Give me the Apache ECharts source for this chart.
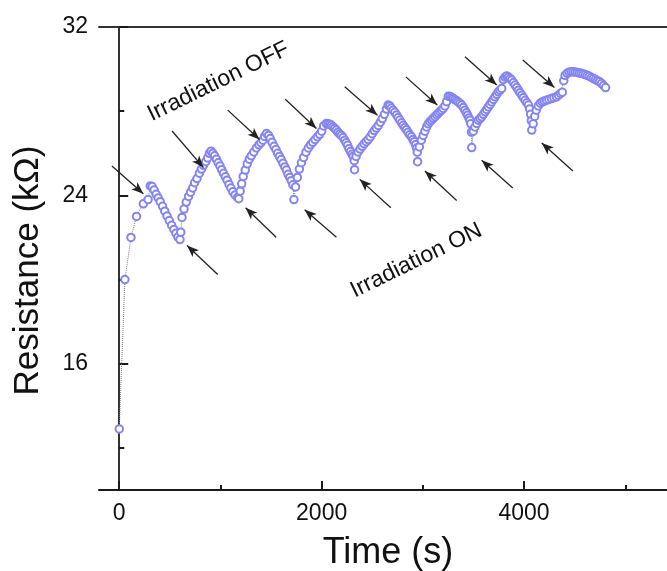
<!DOCTYPE html>
<html>
<head>
<meta charset="utf-8">
<script src="https://cdn.jsdelivr.net/npm/echarts@6/dist/echarts.min.js"></script>
<style>html,body{margin:0;padding:0;background:#fff;}#c{width:667px;height:571px;}</style>
</head>
<body>
<div id="c"></div>
<script>
// Time (s)
const timeS = [
0,56,116,171,238,285,307,325,345,365,385,405,428,450,472,495,518,540,560,580,600,
608,620,640,662,685,705,725,745,768,792,812,832,855,874,891,908,
925,942,960,978,995,1012,1030,1048,1066,1085,1103,1122,1145,1170,1181,
1195,1210,1225,1245,1265,1285,1305,1330,1355,1380,1400,1420,1436,1455,
1475,1492,1510,1530,1548,1565,1583,1600,1618,1636,1652,1668,1685,1700,1716,1726,
1742,1760,1780,1800,1822,1845,1868,1890,1912,1935,1958,1980,2000,2020,2046,
2062,2080,2096,2112,2129,2145,2161,2178,2195,2212,2228,2242,2256,2270,2285,2300,2312,2322,2325,
2340,2360,2380,2400,2420,2440,2460,2480,2500,2520,2540,2560,2580,2600,2620,2640,2657,
2672,2688,2705,2722,2740,2756,2772,2790,2806,2822,2838,2854,2870,2888,2902,2915,2928,2938,2945,2948,
2965,2985,3003,3020,3037,3053,3070,3086,3103,3120,3136,3152,3168,3185,3201,3218,3235,3251,
3268,3285,3300,3316,3333,3349,3366,3383,3400,3415,3430,3442,3455,3465,3474,3480,3483,
3498,3515,3532,3548,3565,3581,3598,3614,3630,3647,3664,3680,3697,3713,3730,3746,3763,3779,3795,3812,3828,
3845,3862,3878,3895,3911,3928,3944,3960,3977,3993,4010,4027,4043,4055,4065,4072,4076,
4090,4105,4120,4140,4160,4180,4200,4222,4245,4270,4295,4320,4340,4360,4378,4392,
4405,4425,4445,4465,4485,4505,4525,4545,4565,4585,4605,4625,4645,4665,4685,4705,4725,4745,4765,4785,4805
];
// Resistance (kOhm)
const resistance = [
12.9,20.0,22.0,23.0,23.6,23.8,24.45,24.42,24.25,24.05,23.88,23.7,23.48,23.25,23.02,22.8,22.58,22.38,22.2,22.02,21.9,
22.25,22.95,23.35,23.68,23.95,24.15,24.35,24.6,24.8,25.05,25.25,25.43,25.6,25.78,26.0,26.1,
26.0,25.88,25.72,25.55,25.4,25.22,25.05,24.88,24.72,24.52,24.35,24.17,24.02,23.9,23.84,
24.2,24.55,24.9,25.2,25.5,25.72,25.88,26.06,26.25,26.4,26.5,26.62,26.8,26.94,
26.85,26.7,26.52,26.33,26.18,26.0,25.85,25.7,25.52,25.35,25.2,25.0,24.85,24.7,24.5,23.8,
24.4,24.85,25.25,25.55,25.8,26.05,26.25,26.4,26.52,26.65,26.78,26.9,27.05,27.3,27.41,
27.4,27.38,27.33,27.25,27.18,27.1,27.0,26.92,26.85,26.75,26.62,26.5,26.38,26.22,26.08,25.95,25.85,25.65,25.22,
25.85,26.06,26.2,26.33,26.45,26.55,26.65,26.78,26.93,27.08,27.2,27.32,27.48,27.65,27.85,28.1,28.29,
28.25,28.15,28.05,27.95,27.82,27.7,27.58,27.45,27.33,27.22,27.12,27.0,26.88,26.78,26.65,26.55,26.4,26.25,26.05,25.6,
26.3,26.62,26.85,27.05,27.25,27.4,27.5,27.58,27.66,27.74,27.82,27.9,27.98,28.05,28.13,28.25,28.45,28.71,
28.7,28.65,28.6,28.55,28.5,28.44,28.37,28.29,28.18,28.05,27.92,27.81,27.68,27.57,27.4,27.0,26.27,
27.05,27.25,27.42,27.57,27.65,27.73,27.85,27.97,28.08,28.2,28.32,28.44,28.56,28.68,28.8,28.92,29.0,29.08,29.5,29.62,29.67,
29.62,29.55,29.48,29.36,29.24,29.12,29.0,28.88,28.76,28.64,28.52,28.4,28.29,28.1,27.85,27.55,27.1,
27.4,27.75,28.05,28.25,28.38,28.44,28.48,28.52,28.56,28.6,28.64,28.68,28.76,28.84,28.9,29.45,
29.7,29.8,29.85,29.87,29.87,29.86,29.84,29.82,29.8,29.77,29.74,29.7,29.66,29.6,29.55,29.5,29.45,29.4,29.32,29.22,29.12
];
// Tick values
const xMajorTicks = [0, 2000, 4000];
const xMinorTicks = [1000, 3000, 5000];
const yMajorTicks = [16, 24, 32];
const yMinorTicks = [12, 20, 28];
// Annotation arrows [fromTime, fromR, toTime, toR] (arrowhead at "to")
const arrowsOff = [
[-72,25.40,238,24.08],[522,27.06,832,25.32],[1072,28.05,1386,26.65],[1641,28.57,1948,27.18],
[2228,29.16,2551,27.81],[2832,29.63,3142,28.29],[3416,30.59,3730,29.24],[3987,30.43,4300,29.13]
];
const arrowsOn = [
[973,20.24,670,21.62],[1551,22.01,1248,23.41],[2146,22.01,1832,23.32],[2683,23.41,2376,24.76],
[3334,23.76,3020,25.16],[3888,24.35,3581,25.67],[4482,25.16,4175,26.49]
];
// Annotation texts [text, time, R]
const annotations = [["Irradiation OFF", 980, 29.4], ["Irradiation ON", 2935, 20.9]];

const FONT = "'Liberation Sans', Arial, Helvetica, sans-serif";
const chart = echarts.init(document.getElementById('c'), null, {renderer: 'canvas'});
const pts = timeS.map((t, i) => [t, resistance[i]]);
const arrowData = arrowsOff.concat(arrowsOn).map(a => [{coord: [a[0], a[1]]}, {coord: [a[2], a[3]]}]);

const AX = '#1a1a1a';
chart.setOption({
  animation: false,
  backgroundColor: '#fff',
  grid: {left: 99, top: 27, width: 587, height: 463, containLabel: false, outerBoundsMode: 'none'},
  xAxis: [
    {type: 'value', min: -200, max: 5600, position: 'bottom',
     name: 'Time (s)', nameLocation: 'middle', nameGap: 45,
     nameTextStyle: {fontFamily: FONT, fontSize: 36, color: '#111', padding: [0, 9, 0, 0]},
     axisLine: {lineStyle: {color: AX, width: 2}},
     axisTick: {inside: true, length: 9, lineStyle: {color: AX, width: 2}, customValues: xMajorTicks},
     axisLabel: {customValues: xMajorTicks, formatter: v => String(v), fontFamily: FONT, fontSize: 23, color: '#111', margin: 12},
     splitLine: {show: false}},
    {type: 'value', min: -200, max: 5600, position: 'bottom',
     axisLine: {show: false},
     axisTick: {inside: true, length: 5, lineStyle: {color: AX, width: 2}, customValues: xMinorTicks},
     axisLabel: {show: false}, splitLine: {show: false}},
    {type: 'value', min: -200, max: 5600, position: 'top',
     axisLine: {lineStyle: {color: '#333', width: 2}},
     axisTick: {show: false}, axisLabel: {show: false}, splitLine: {show: false}}
  ],
  yAxis: [
    {type: 'value', min: 10, max: 32, position: 'left',
     name: 'Resistance (k\u03A9)', nameLocation: 'middle', nameGap: 53, nameRotate: 90,
     nameTextStyle: {fontFamily: FONT, fontSize: 35, color: '#111', padding: [0, 24, 0, 0]},
     axisLine: {lineStyle: {color: AX, width: 2}},
     axisTick: {inside: true, length: 9, lineStyle: {color: AX, width: 2}, customValues: yMajorTicks},
     axisLabel: {customValues: yMajorTicks, formatter: v => String(v), fontFamily: FONT, fontSize: 23, color: '#111', margin: 11},
     splitLine: {show: false}},
    {type: 'value', min: 10, max: 32, position: 'left',
     axisLine: {show: false},
     axisTick: {inside: true, length: 5, lineStyle: {color: AX, width: 2}, customValues: yMinorTicks},
     axisLabel: {show: false}, splitLine: {show: false}},
    {type: 'value', min: 10, max: 32, position: 'right',
     axisLine: {lineStyle: {color: '#333', width: 2}},
     axisTick: {show: false}, axisLabel: {show: false}, splitLine: {show: false}}
  ],
  series: [
    {type: 'line', xAxisIndex: 0, yAxisIndex: 0, data: pts,
     symbol: 'emptyCircle', symbolSize: 7.5, showAllSymbol: true,
     lineStyle: {color: '#7a7a90', width: 1, type: 'dotted'},
     itemStyle: {color: '#8484f2', borderColor: '#8484f2', borderWidth: 1},
     z: 3,
     markLine: {silent: true, symbol: ['none', 'arrow'], symbolSize: [7, 12], precision: 4,
       lineStyle: {color: '#222', width: 1.3, type: 'solid'},
       label: {show: false}, emphasis: {disabled: true},
       data: arrowData}}
  ]
});

const g = annotations.map(a => {
  const p = chart.convertToPixel({xAxisIndex: 0, yAxisIndex: 0}, [a[1], a[2]]);
  return {type: 'text', x: p[0], y: p[1], rotation: 26 * Math.PI / 180, z: 10,
    style: {text: a[0], font: '23px ' + FONT, fill: '#111', align: 'center', verticalAlign: 'middle'}};
});
chart.setOption({graphic: g});
</script>
</body>
</html>
